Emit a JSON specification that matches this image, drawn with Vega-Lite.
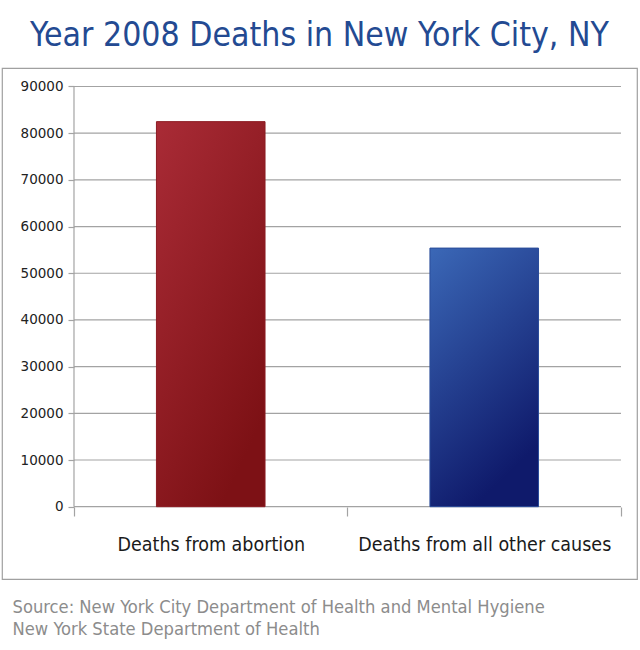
{
  "$schema": "https://vega.github.io/schema/vega-lite/v6.json",
  "width": 635,
  "height": 511,
  "autosize": "none",
  "padding": {"left": 2, "top": 68, "right": 3, "bottom": 71},
  "background": "white",
  "title": {
    "text": "Year 2008 Deaths in New York City, NY",
    "font": "DejaVu Sans Condensed",
    "fontSize": 33.5,
    "fontWeight": "normal",
    "color": "#234a92",
    "anchor": "middle",
    "frame": "group",
    "baseline": "alphabetic",
    "offset": -11
  },
  "datasets": {
    "deaths": [
      {"cause": "Deaths from abortion", "deaths": 82475},
      {"cause": "Deaths from all other causes", "deaths": 55391}
    ],
    "ticks": [
      {"value": 0}, {"value": 10000}, {"value": 20000}, {"value": 30000}, {"value": 40000},
      {"value": 50000}, {"value": 60000}, {"value": 70000}, {"value": 80000}, {"value": 90000}
    ]
  },
  "layer": [
    {
      "data": {"name": "ticks"},
      "mark": {"type": "rule", "color": "#a3a3a3", "strokeWidth": 1.2},
      "encoding": {
        "x": {
          "datum": "Deaths from abortion",
          "type": "nominal",
          "bandPosition": 0,
          "scale": {
            "type": "band",
            "domain": ["Deaths from abortion", "Deaths from all other causes"],
            "paddingInner": 0,
            "paddingOuter": 0.1609,
            "align": 0.818
          },
          "axis": {
            "orient": "bottom",
            "offset": -72,
            "domain": false,
            "grid": false,
            "ticks": true,
            "tickBand": "extent",
            "tickSize": 9,
            "tickColor": "#a3a3a3",
            "tickWidth": 1.2,
            "labelAngle": 0,
            "labelLimit": 0,
            "labelFont": "DejaVu Sans Condensed",
            "labelFontSize": 19.5,
            "labelColor": "#1a1a1a",
            "labelPadding": 19,
            "title": ["Source: New York City Department of Health and Mental Hygiene", "New York State Department of Health"],
            "titleFont": "DejaVu Sans Condensed",
            "titleFontSize": 18.2,
            "titleFontWeight": "normal",
            "titleColor": "#8c8c8c",
            "titleAnchor": "start",
            "titleAlign": "left",
            "titleBaseline": "alphabetic",
            "titleX": 10,
            "titleY": 105,
            "titleLineHeight": 22,
            "titleLimit": 0
          }
        },
        "x2": {"datum": "Deaths from all other causes", "bandPosition": 1},
        "y": {
          "field": "value",
          "type": "quantitative",
          "scale": {"domain": [-15485, 93962], "nice": false, "zero": false},
          "axis": {
            "orient": "left",
            "offset": -72,
            "domain": false,
            "grid": false,
            "values": [0, 10000, 20000, 30000, 40000, 50000, 60000, 70000, 80000, 90000],
            "format": "d",
            "tickSize": 6,
            "tickColor": "#a3a3a3",
            "tickWidth": 1.2,
            "labelFont": "DejaVu Sans",
            "labelFontSize": 13.5,
            "labelColor": "#222222",
            "labelPadding": 5,
            "title": null
          }
        }
      }
    },
    {
      "data": {"values": [{"from": 0, "to": 90000}]},
      "mark": {"type": "rule", "color": "#a3a3a3", "strokeWidth": 1.2},
      "encoding": {
        "x": {"datum": "Deaths from abortion", "type": "nominal", "bandPosition": 0},
        "y": {"field": "from", "type": "quantitative"},
        "y2": {"field": "to"}
      }
    },
    {
      "data": {"name": "deaths"},
      "transform": [{"filter": "datum.cause === 'Deaths from abortion'"}],
      "mark": {
        "type": "bar",
        "width": {"band": 0.397},
        "stroke": "#8c1b22",
        "strokeWidth": 1,
        "color": {
          "gradient": "linear",
          "x1": 0, "y1": 0, "x2": 0.6, "y2": 1,
          "stops": [
            {"offset": 0, "color": "#a92b36"},
            {"offset": 1, "color": "#7d1115"}
          ]
        }
      },
      "encoding": {
        "x": {"field": "cause", "type": "nominal"},
        "y": {"field": "deaths", "type": "quantitative"},
        "y2": {"datum": 0}
      }
    },
    {
      "data": {"name": "deaths"},
      "transform": [{"filter": "datum.cause === 'Deaths from all other causes'"}],
      "mark": {
        "type": "bar",
        "width": {"band": 0.397},
        "stroke": "#2a4c9a",
        "strokeWidth": 1,
        "color": {
          "gradient": "linear",
          "x1": 0, "y1": 0, "x2": 0.4, "y2": 1,
          "stops": [
            {"offset": 0, "color": "#3b68b7"},
            {"offset": 1, "color": "#0f1a6b"}
          ]
        }
      },
      "encoding": {
        "x": {"field": "cause", "type": "nominal"},
        "y": {"field": "deaths", "type": "quantitative"},
        "y2": {"datum": 0}
      }
    }
  ],
  "config": {
    "view": {"stroke": "#a0a0a0", "strokeWidth": 1.2}
  }
}
